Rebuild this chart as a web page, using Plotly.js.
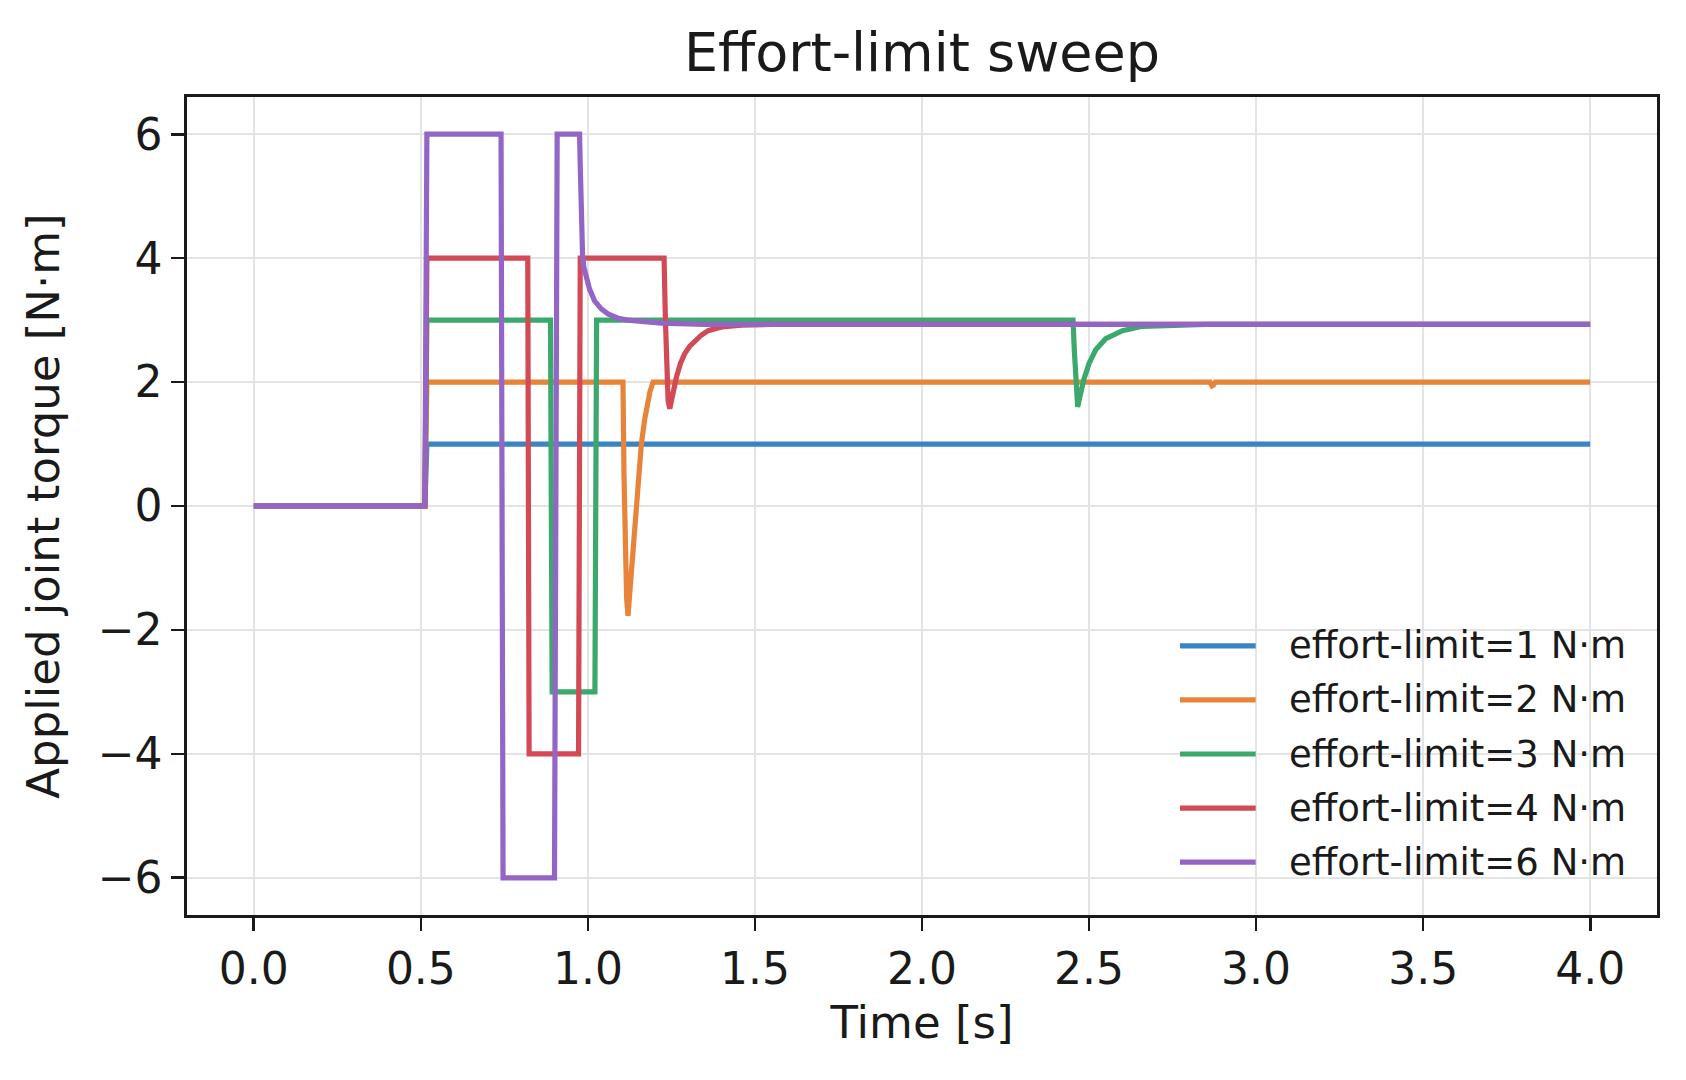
<!DOCTYPE html>
<html>
<head>
<meta charset="utf-8">
<script src="https://cdn.plot.ly/plotly-3.0.1.min.js"></script>
<style>
  body { margin: 0; background: #fff; }
  #chart { width: 1686px; height: 1080px; }
</style>
</head>
<body>
<div id="chart"></div>
<script>
// Values (time in s, torque in N·m)
var seriesNames = ["effort-limit=1 N·m", "effort-limit=2 N·m", "effort-limit=3 N·m",
                   "effort-limit=4 N·m", "effort-limit=6 N·m"];

var timeL1 = [0, 0.512, 0.518, 4.0];
var torqueL1 = [0, 0, 1, 1];

var timeL2 = [0, 0.512, 0.518, 1.105, 1.108, 1.112, 1.116, 1.120, 1.124, 1.128, 1.135, 1.143,
              1.151, 1.160, 1.170, 1.178, 1.186, 1.195, 2.862, 2.868, 2.872, 2.878, 4.0];
var torqueL2 = [0, 0, 2, 2, 0.5, -0.8, -1.5, -1.77, -1.5, -1.02, -0.5, 0,
                0.5, 1.0, 1.4, 1.65, 1.85, 2.0, 2.0, 1.94, 1.95, 2.0, 2.0];

var timeL3 = [0, 0.512, 0.518, 0.888, 0.893, 1.021, 1.026, 2.452, 2.456, 2.461, 2.466, 2.472,
              2.485, 2.50, 2.52, 2.55, 2.60, 2.66, 2.75, 2.85, 4.0];
var torqueL3 = [0, 0, 3, 3, -3, -3, 3, 3, 2.5, 1.9, 1.6, 1.75,
                2.05, 2.3, 2.52, 2.7, 2.83, 2.9, 2.92, 2.93, 2.93];

var timeL4 = [0, 0.512, 0.518, 0.820, 0.824, 0.972, 0.977, 1.228, 1.232, 1.236, 1.240, 1.245,
              1.250, 1.257, 1.265, 1.277, 1.290, 1.305, 1.320, 1.340, 1.360, 1.400, 1.460, 1.550, 4.0];
var torqueL4 = [0, 0, 4, 4, -4, -4, 4, 4, 3.0, 2.2, 1.7, 1.57,
                1.71, 1.90, 2.08, 2.30, 2.46, 2.58, 2.67, 2.76, 2.83, 2.89, 2.92, 2.93, 2.93];

var timeL6 = [0, 0.512, 0.518, 0.740, 0.746, 0.900, 0.908, 0.975, 0.977, 0.979, 0.981, 0.984,
              0.988, 0.995, 1.005, 1.020, 1.040, 1.060, 1.090, 1.120, 1.170, 1.220, 1.350, 4.0];
var torqueL6 = [0, 0, 6, 6, -6, -6, 6, 6, 5.5, 4.9, 4.4, 4.05,
                3.85, 3.69, 3.5, 3.31, 3.18, 3.10, 3.03, 3.0, 2.97, 2.95, 2.93, 2.93];

var lineColors = ["#3a84c6", "#e8833a", "#3ca96c", "#d24a56", "#9366c6"];

var allTimes = [timeL1, timeL2, timeL3, timeL4, timeL6];
var allTorques = [torqueL1, torqueL2, torqueL3, torqueL4, torqueL6];

var fontFam = "DejaVu Sans, sans-serif";
var ink = "#1a1a1a";
var lineW = 5.2;

// build one trace per effort limit
var data = [];
for (var i = 0; i < seriesNames.length; i++) {
    data.push({
        type: "scatter",
        mode: "lines",
        name: seriesNames[i],
        x: allTimes[i],
        y: allTorques[i],
        line: {color: lineColors[i], width: lineW}
    });
}

// legend drawn by hand (matplotlib style: long handle, wide gap, no frame)
var legendShapes = [];
var legendNotes = [];
var legTop = 0.329, legStep = 0.0661;
for (var j = 0; j < seriesNames.length; j++) {
    var ly = legTop - j * legStep;
    legendShapes.push({
        type: "line", xref: "paper", yref: "paper",
        x0: 0.6755, x1: 0.727, y0: ly, y1: ly,
        line: {color: lineColors[j], width: lineW}
    });
    legendNotes.push({
        xref: "paper", yref: "paper", x: 0.748, y: ly,
        xanchor: "left", yanchor: "middle", showarrow: false,
        text: seriesNames[j],
        font: {family: fontFam, size: 37, color: ink}
    });
}

var layout = {
    width: 1686,
    height: 1080,
    paper_bgcolor: "#ffffff",
    plot_bgcolor: "#ffffff",
    margin: {l: 187, r: 29, t: 97, b: 165},
    font: {family: fontFam, color: ink},
    title: {
        text: "Effort-limit sweep",
        font: {family: fontFam, size: 54, color: ink},
        x: 0.5, xref: "paper",
        y: 1 - 52 / 1080, yref: "container", yanchor: "middle"
    },
    xaxis: {
        range: [-0.2, 4.2],
        tick0: 0, dtick: 0.5, tickformat: ".1f",
        ticks: "outside", ticklen: 13, tickwidth: 2.7, tickcolor: ink,
        tickfont: {family: fontFam, size: 44, color: ink},
        showline: true, linecolor: ink, linewidth: 2.7, mirror: true,
        showgrid: true, gridcolor: "#e4e4e4", gridwidth: 2.5,
        zeroline: false,
        title: {text: "Time [s]", font: {family: fontFam, size: 45, color: ink}, standoff: 14}
    },
    yaxis: {
        range: [-6.6, 6.6],
        tick0: 0, dtick: 2,
        ticks: "outside", ticklen: 13, tickwidth: 2.7, tickcolor: ink,
        tickfont: {family: fontFam, size: 44, color: ink},
        showline: true, linecolor: ink, linewidth: 2.7, mirror: true,
        showgrid: true, gridcolor: "#e4e4e4", gridwidth: 2.5,
        zeroline: false,
        title: {text: "Applied joint torque [N·m]", font: {family: fontFam, size: 45, color: ink}, standoff: 24}
    },
    showlegend: false,
    shapes: legendShapes,
    annotations: legendNotes
};

Plotly.newPlot("chart", data, layout, {displayModeBar: false, staticPlot: true});
</script>
</body>
</html>
